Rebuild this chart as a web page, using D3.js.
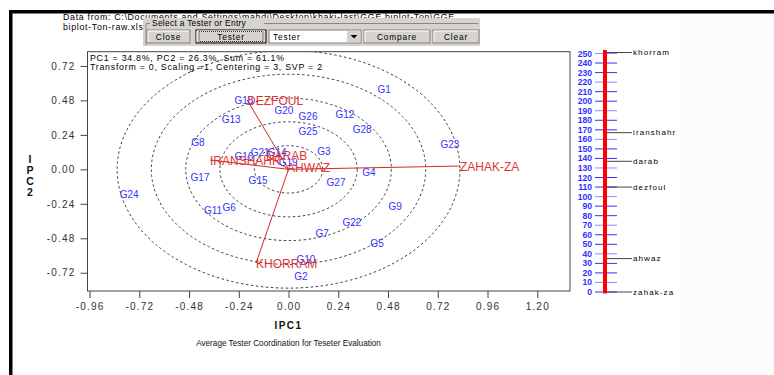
<!DOCTYPE html>
<html>
<head>
<meta charset="utf-8">
<script src="https://cdn.jsdelivr.net/npm/d3@7"></script>
<style>
  html, body { margin: 0; padding: 0; background: #ffffff; }
  svg { display: block; font-family: "Liberation Sans", Arial, sans-serif; }
</style>
</head>
<body>
<svg id="chart" width="774" height="375"></svg>
<script>
// Genotype (entry) scores on IPC1 / IPC2
const genotypes = ["G1","G2","G3","G4","G5","G6","G7","G8","G9","G10","G11","G12","G13","G14",
  "G15","G16","G17","G18","G19","G20","G21","G22","G23","G24","G25","G26","G27","G28"];
const genoPC1 = [0.461, 0.060, 0.171, 0.388, 0.427, -0.287, 0.162, -0.437, 0.514, 0.084, -0.364, 0.272, -0.277, -0.055,
  -0.147, -0.215, -0.427, -0.215, -0.002, -0.022, -0.137, 0.306, 0.779, -0.769, 0.094, 0.094, 0.229, 0.355];
const genoPC2 = [0.559, -0.743, 0.127, -0.019, -0.513, -0.263, -0.444, 0.190, -0.256, -0.625, -0.290, 0.385, 0.350, 0.120,
  -0.075, 0.086, -0.054, 0.476, 0.051, 0.413, 0.120, -0.367, 0.176, -0.172, 0.260, 0.371, -0.095, 0.274];

// Tester (environment) vectors
const testers = ["ZAHAK-ZA", "DEZFOUL", "KHORRAM", "IRANSHAHR", "DARAB", "AHWAZ"];
const testerPC1 = [0.827, -0.200, -0.157, -0.379, -0.109, -0.007];
const testerPC2 = [0.023, 0.483, -0.653, 0.065, 0.100, 0.016];

// Concentric discrimination circles around the biplot origin
const circleRadii = [0.165, 0.331, 0.496, 0.662, 0.827];

// Axis ticks
const xTicks = [-0.96, -0.72, -0.48, -0.24, 0.00, 0.24, 0.48, 0.72, 0.96, 1.20];
const yTicks = [-0.72, -0.48, -0.24, 0.00, 0.24, 0.48, 0.72];

// Side ranking scale
const rankTicks = d3.range(0, 251, 10);
const rankNames = ["khorram", "iranshahr", "darab", "dezfoul", "ahwaz", "zahak-za"];
const rankValues = [251, 167, 137, 110, 35, 0];

const infoLines = ["PC1 = 34.8%, PC2 = 26.3%, Sum = 61.1%",
                   "Transform = 0, Scaling =1, Centering = 3, SVP = 2"];

const svg = d3.select("#chart");

// ---- window frame ----
svg.append("rect").attr("x", 0).attr("y", 0).attr("width", 774).attr("height", 375).attr("fill", "#ffffff");
svg.append("rect").attr("x", 680).attr("y", 13).attr("width", 94).attr("height", 362).attr("fill", "#fcfcfc");
svg.append("rect").attr("x", 9).attr("y", 10).attr("width", 765).attr("height", 3.5).attr("fill", "#000");
svg.append("rect").attr("x", 9).attr("y", 10).attr("width", 3.5).attr("height", 365).attr("fill", "#000");

// ---- data source text ----
svg.append("text").attr("x", 63).attr("y", 20).attr("font-size", 8.8).attr("letter-spacing", 0.7).attr("fill", "#000")
  .text("Data from: C:\\Documents and Settings\\mahdi\\Desktop\\khaki-last\\GGE biplot-Ton\\GGE");
svg.append("text").attr("x", 63).attr("y", 30).attr("font-size", 8.8).attr("letter-spacing", 0.7).attr("fill", "#000")
  .text("biplot-Ton-raw.xls");

// ---- tester selection panel ----
const panel = svg.append("g");
panel.append("rect").attr("x", 143).attr("y", 18).attr("width", 337).attr("height", 28)
  .attr("fill", "#d6d3ce");
panel.append("path").attr("d", "M146,23.5 H478 M146,23.5 V45").attr("stroke", "#8a8780").attr("fill", "none");
panel.append("rect").attr("x", 150).attr("y", 18.5).attr("width", 114).attr("height", 9).attr("fill", "#d6d3ce");
panel.append("text").attr("x", 152).attr("y", 26).attr("font-size", 8.4).attr("letter-spacing", 0.3).attr("fill", "#000")
  .text("Select a Tester or Entry");

function button(x, w, label, isDefault) {
  const g = panel.append("g");
  g.append("rect").attr("x", x).attr("y", 30).attr("width", w).attr("height", 13)
    .attr("fill", "#d6d3ce").attr("stroke", isDefault ? "#000" : "#808080");
  g.append("path").attr("d", `M${x + 1},${42} V31 H${x + w - 1}`).attr("stroke", "#fff").attr("fill", "none");
  if (isDefault) {
    g.append("rect").attr("x", x + 3).attr("y", 31.5).attr("width", w - 6).attr("height", 10)
      .attr("fill", "none").attr("stroke", "#000").attr("stroke-width", 0.8).attr("stroke-dasharray", "1,1");
  }
  g.append("text").attr("x", x + w / 2).attr("y", 39.5).attr("text-anchor", "middle")
    .attr("font-size", 8.4).attr("letter-spacing", 0.8).attr("fill", "#000").text(label);
}
button(147, 43, "Close", false);
button(196, 70, "Tester", true);
// combo box
panel.append("rect").attr("x", 269).attr("y", 30).attr("width", 92).attr("height", 13)
  .attr("fill", "#fff").attr("stroke", "#808080");
panel.append("text").attr("x", 273).attr("y", 39.5).attr("font-size", 8.4).attr("letter-spacing", 0.8)
  .attr("fill", "#000").text("Tester");
panel.append("rect").attr("x", 347).attr("y", 31).attr("width", 13).attr("height", 11).attr("fill", "#d6d3ce");
panel.append("path").attr("d", "M350.5,35 h7 l-3.5,3.5 z").attr("fill", "#000");
button(364, 66, "Compare", false);
button(433, 46, "Clear", false);

// ---- biplot scales ----
const x = d3.scaleLinear().domain([-0.97, 1.358]).range([87.5, 570]);
const y = d3.scaleLinear().domain([-0.847, 0.819]).range([291, 51.7]);
const [px0, px1] = x.range();
const [py0, py1] = y.range();

svg.append("clipPath").attr("id", "plotClip").append("rect")
  .attr("x", px0).attr("y", py1).attr("width", px1 - px0).attr("height", py0 - py1);

const plot = svg.append("g").attr("clip-path", "url(#plotClip)");

// discrimination circles (ellipses on screen because the axes use different unit lengths)
plot.selectAll("ellipse.ring").data(circleRadii).join("ellipse")
  .attr("class", "ring")
  .attr("cx", x(0)).attr("cy", y(0))
  .attr("rx", r => x(r) - x(0))
  .attr("ry", r => y(0) - y(r))
  .attr("fill", "none").attr("stroke", "#3a3a3a").attr("stroke-width", 1)
  .attr("stroke-dasharray", "2.5,2.5");

// tester vectors
const testerData = testers.map((t, i) => ({ name: t, pc1: testerPC1[i], pc2: testerPC2[i] }));
plot.selectAll("line.vec").data(testerData).join("line")
  .attr("class", "vec")
  .attr("x1", x(0)).attr("y1", y(0))
  .attr("x2", d => x(d.pc1)).attr("y2", d => y(d.pc2))
  .attr("stroke", "#d22a2a").attr("stroke-width", 1);

// genotype labels
const genoData = genotypes.map((g, i) => ({ name: g, pc1: genoPC1[i], pc2: genoPC2[i] }));
plot.selectAll("text.geno").data(genoData).join("text")
  .attr("class", "geno")
  .attr("x", d => x(d.pc1)).attr("y", d => y(d.pc2))
  .attr("text-anchor", "middle").attr("dy", "0.35em")
  .attr("font-size", 10).attr("fill", "#3434ff")
  .text(d => d.name);

// tester labels
plot.selectAll("text.tester").data(testerData).join("text")
  .attr("class", "tester")
  .attr("x", d => x(d.pc1)).attr("y", d => y(d.pc2))
  .attr("dy", "0.38em")
  .attr("font-size", 12).attr("fill", "#e03535")
  .text(d => d.name);

// info text
svg.selectAll("text.info").data(infoLines).join("text")
  .attr("class", "info")
  .attr("x", 90).attr("y", (d, i) => 60.5 + i * 9.5)
  .attr("font-size", 8.8).attr("letter-spacing", 0.75).attr("fill", "#000")
  .text(d => d);

// frame
svg.append("rect").attr("x", px0).attr("y", py1).attr("width", px1 - px0).attr("height", py0 - py1)
  .attr("fill", "none").attr("stroke", "#444").attr("stroke-width", 1);

// axes
const fmt = d => d.toFixed(2);
const xAxis = svg.append("g").attr("transform", `translate(0,${py0})`)
  .call(d3.axisBottom(x).tickValues(xTicks).tickFormat(fmt).tickSize(7).tickSizeOuter(0));
const yAxis = svg.append("g").attr("transform", `translate(${px0},0)`)
  .call(d3.axisLeft(y).tickValues(yTicks).tickFormat(fmt).tickSize(7).tickSizeOuter(0));
[xAxis, yAxis].forEach(a => {
  a.select(".domain").remove();
  a.selectAll(".tick line").attr("stroke", "#444");
  a.selectAll(".tick text").attr("font-size", 10).attr("letter-spacing", 1.2)
    .attr("fill", "#333").attr("font-family", "Liberation Sans, Arial, sans-serif");
});
xAxis.selectAll(".tick text").attr("y", 12);
yAxis.selectAll(".tick text").attr("x", -12);

// axis titles
svg.append("text").attr("x", x(0)).attr("y", 329).attr("text-anchor", "middle")
  .attr("font-size", 10).attr("font-weight", "bold").attr("letter-spacing", 1.5).attr("fill", "#111")
  .text("IPC1");
svg.append("text").attr("x", x(0)).attr("y", 346).attr("text-anchor", "middle")
  .attr("font-size", 8.2).attr("fill", "#111")
  .text("Average Tester Coordination for Teseter Evaluation");
const ylab = svg.append("text").attr("text-anchor", "middle").attr("font-size", 10.5)
  .attr("font-weight", "bold").attr("fill", "#111");
["I", "P", "C", "2"].forEach((c, i) => {
  ylab.append("tspan").attr("x", 30).attr("y", 163 + i * 11).text(c);
});

// ---- side ranking scale ----
const r = d3.scaleLinear().domain([0, 250]).range([292, 53.5]);
const side = svg.append("g");
side.selectAll("line.rt").data(rankTicks).join("line")
  .attr("class", "rt")
  .attr("x1", 595).attr("x2", 617)
  .attr("y1", d => r(d)).attr("y2", d => r(d))
  .attr("stroke", (d, i) => i % 3 === 1 ? "#8c8cff" : "#3030ff").attr("stroke-width", 1);
side.selectAll("text.rl").data(rankTicks).join("text")
  .attr("class", "rl")
  .attr("x", 592).attr("y", d => r(d)).attr("dy", "0.35em")
  .attr("text-anchor", "end").attr("font-size", 8.6).attr("font-weight", "bold")
  .attr("fill", "#3030ff")
  .text(d => d);
side.append("line").attr("x1", 605).attr("x2", 605).attr("y1", 50).attr("y2", 293.5)
  .attr("stroke", "#ff0000").attr("stroke-width", 4);

const rankData = rankNames.map((n, i) => ({ name: n, v: rankValues[i] }));
side.selectAll("line.rk").data(rankData).join("line")
  .attr("class", "rk")
  .attr("x1", 607).attr("x2", 632)
  .attr("y1", d => r(d.v)).attr("y2", d => r(d.v))
  .attr("stroke", "#444").attr("stroke-width", 1);
side.selectAll("text.rn").data(rankData).join("text")
  .attr("class", "rn")
  .attr("x", 633).attr("y", d => r(d.v)).attr("dy", "0.35em")
  .attr("font-size", 8).attr("letter-spacing", 1.1).attr("fill", "#000")
  .text(d => d.name);
</script>
</body>
</html>
